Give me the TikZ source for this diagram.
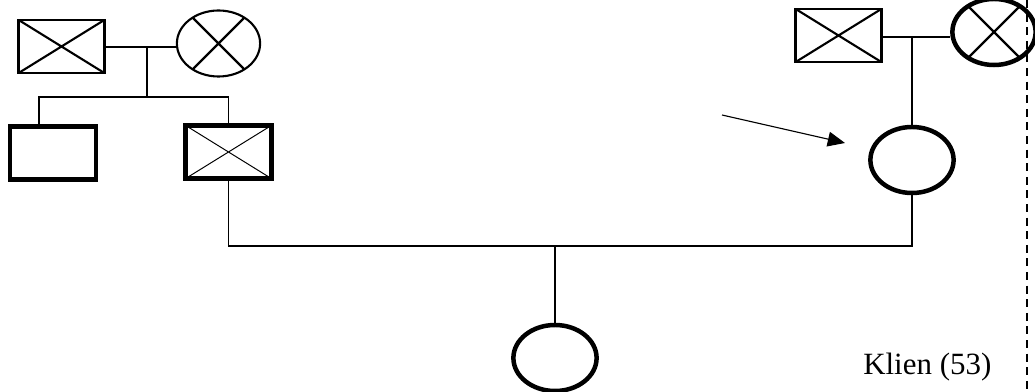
\documentclass[tikz,border=0pt]{standalone}
\usepackage{fontspec}
\setmainfont{Liberation Serif}
\usepackage{tikz}
\usetikzlibrary{shapes.geometric, arrows.meta, positioning, calc}

\begin{document}
\begin{tikzpicture}[
    x=0.025cm, y=-0.025cm,
    male/.style={rectangle, draw=black, line width=#1, inner sep=0pt,
        minimum width=2.15cm, minimum height=1.33cm},
    female/.style={ellipse, draw=black, line width=#1, inner sep=0pt,
        minimum width=2.08cm, minimum height=1.65cm},
    dead/.style={path picture={
        \draw[line width=#1] (path picture bounding box.north west) -- (path picture bounding box.south east)
            (path picture bounding box.south west) -- (path picture bounding box.north east);}},
    deadf/.style={path picture={
        \draw[line width=#1] (path picture bounding box.center) ++(45:3cm) -- ++(225:6cm)
            (path picture bounding box.center) ++(135:3cm) -- ++(315:6cm);}},
    link/.style={line width=1.3pt},
    arr/.style={-{Triangle[length=0.43cm, width=0.37cm]}, line width=0.8pt},
]
\useasboundingbox (0,0) rectangle (1035,392);

% Left grandparents
\node[male=1.6pt, dead=1.5pt] (gpL) at (61.5,46.5) {};
\node[female=1.5pt, deadf=1.6pt] (gmL) at (218.5,43.5) {};
\coordinate (mL) at (147,47);
\coordinate (sibL) at (147,97);
\draw[link] (gpL.east |- mL) -- (gmL.west |- mL);
\draw[link] (mL) -- (sibL);

% Left children
\node[male=3.2pt] (aunt) at (53,153) {};
\node[male=3.2pt, dead=0.7pt] (father) at (228.5,152) {};
\draw[link] ([xshift=-10]aunt.north) |- (sibL) -| (father.north);

% Right grandparents
\node[male=1.6pt, dead=1.5pt] (gpR) at (838.5,35.5) {};
\node[female=3.2pt, deadf=1.6pt] (gmR) at (994,32) {};
\coordinate (mR) at (912,37);
\draw[link] (gpR.east |- mR) -- (gmR.west |- mR);

% Mother
\node[female=3.2pt] (mother) at (912,160) {};
\draw[link] (mR) -- (mother.north);

% Parents and client
\coordinate (mM) at (555,246);
\draw[link] (father.south) |- (mM) -| (mother.south);
\node[female=3.2pt] (klien) at (555,358) {};
\draw[link] (mM) -- (klien.north);
\node[anchor=base west, font=\fontsize{22}{26}\selectfont, inner sep=0pt] (lbl) at (863,375) {Klien (53)};

% Pointer to mother
\coordinate (tail) at (722,115);
\coordinate (tip) at (845,143);
\draw[arr] (tail) -- (tip);

% Dashed boundary
\coordinate (dtop) at (1027,0);
\coordinate (dbot) at (1027,392);
\draw[line width=1.2pt, dash pattern=on 0.2cm off 0.14cm] (dtop) -- (dbot);

\end{tikzpicture}
\end{document}
